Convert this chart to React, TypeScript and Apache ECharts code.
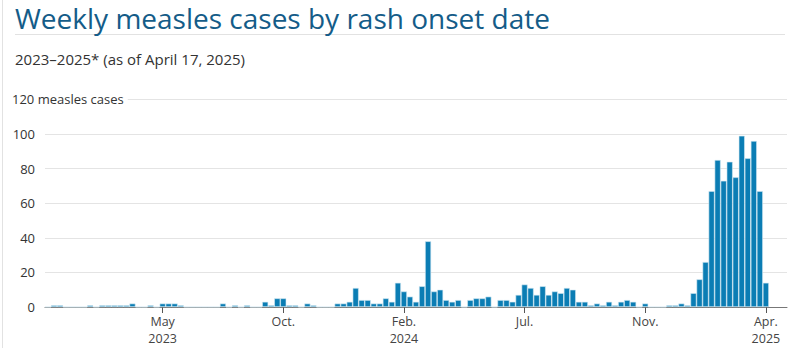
import React, { useEffect, useRef } from "react";
import * as echarts from "echarts";

const startWeek = "2023-01-01";
const weekCount = 123;

const cases = [
  0, 1, 1, 0, 0, 0, 0, 1, 0, 1, 1, 1, 1, 1, 2, 0, 0, 1, 0, 2,
  2, 2, 1, 0, 0, 0, 0, 0, 0, 2, 0, 1, 0, 1, 0, 0, 3, 1, 5, 5,
  1, 1, 0, 2, 1, 0, 0, 0, 2, 2, 3, 11, 4, 4, 2, 2, 5, 3, 14, 9,
  6, 3, 12, 38, 9, 10, 4, 3, 4, 0, 4, 5, 5, 6, 0, 4, 4, 3, 7, 13,
  11, 7, 12, 7, 9, 8, 11, 10, 3, 3, 1, 2, 1, 3, 1, 3, 4, 3, 0, 2,
  0, 0, 0, 1, 1, 2, 1, 8, 16, 26, 67, 85, 73, 84, 75, 99, 86, 96, 67, 14,
];

const tickWeeks = ["2023-05-14", "2023-10-01", "2024-02-18", "2024-07-07", "2024-11-24", "2025-04-13"];
const tickMonths = ["May", "Oct.", "Feb.", "Jul.", "Nov.", "Apr."];
const tickYears = ["2023", "", "2024", "", "", "2025"];

const yTicks = [0, 20, 40, 60, 80, 100, 120];

const title = "Weekly measles cases by rash onset date";
const subtitle = "2023\u20132025* (as of April 17, 2025)";
const yUnitLabel = "120 measles cases";

function buildWeeks(): string[] {
  const out: string[] = [];
  const base = new Date(startWeek + "T00:00:00Z").getTime();
  for (let i = 0; i < weekCount; i++) {
    const d = new Date(base + i * 7 * 86400000);
    out.push(d.toISOString().slice(0, 10));
  }
  return out;
}

const FONT = "'Open Sans', 'Noto Sans', sans-serif";

export default function App() {
  const ref = useRef<HTMLDivElement>(null);
  useEffect(() => {
    if (!ref.current) return;
    const chart = echarts.init(ref.current, undefined, { renderer: "svg" });
    const weeks = buildWeeks();
    const isTick = (i: number, v: string) => tickWeeks.indexOf(v) >= 0;
    const isYearTick = (i: number, v: string) => {
      const k = tickWeeks.indexOf(v);
      return k >= 0 && tickYears[k] !== "";
    };
    chart.setOption({
      animation: false,
      backgroundColor: "#ffffff",
      grid: { left: 45, right: 13, top: 99.5, bottom: 41, containLabel: false },
      xAxis: [
        {
          type: "category",
          data: weeks,
          boundaryGap: true,
          axisLine: { show: true, lineStyle: { color: "#777", width: 1 } },
          axisTick: {
            show: true,
            alignWithLabel: true,
            length: 6,
            lineStyle: { color: "#555" },
            interval: isTick,
          },
          axisLabel: {
            interval: isTick,
            formatter: (v: string) => {
              const k = tickWeeks.indexOf(v);
              return k >= 0 ? tickMonths[k] : "";
            },
            color: "#444",
            fontFamily: FONT,
            fontSize: 12.5,
            lineHeight: 13,
            margin: 8,
          },
          splitLine: { show: false },
        },
        {
          type: "category",
          data: weeks,
          position: "bottom",
          offset: 17,
          boundaryGap: true,
          axisLine: { show: false },
          axisTick: { show: false },
          axisLabel: {
            interval: isYearTick,
            formatter: (v: string) => {
              const k = tickWeeks.indexOf(v);
              return k >= 0 ? tickYears[k] : "";
            },
            color: "#444",
            fontFamily: FONT,
            fontSize: 12.5,
            lineHeight: 13,
            margin: 8,
          },
          splitLine: { show: false },
        },
      ],
      yAxis: {
        type: "value",
        min: 0,
        max: yTicks[yTicks.length - 1],
        interval: 20,
        axisLine: { show: false },
        axisTick: { show: false },
        axisLabel: {
          color: "#333",
          fontFamily: FONT,
          fontSize: 13,
          margin: 10,
          formatter: (v: number) => (v === 120 ? "" : String(v)),
        },
        splitLine: { show: true, lineStyle: { color: "#e4e4e4", width: 1 } },
      },
      series: [
        {
          type: "bar",
          data: cases,
          xAxisIndex: 0,
          barCategoryGap: "0%",
          itemStyle: { color: "#0b7db4", borderColor: "#d4eaf4", borderWidth: 0.6 },
        },
      ],
      graphic: [
        { type: "line", shape: { x1: 2.5, y1: 0, x2: 2.5, y2: 348 }, style: { stroke: "#e2e2e2", lineWidth: 1 } },
        { type: "line", shape: { x1: 15, y1: 34.5, x2: 785, y2: 34.5 }, style: { stroke: "#e2e2e2", lineWidth: 1 } },
        {
          type: "text",
          left: 15,
          top: 4,
          style: { text: title, fill: "#145c88", fontFamily: FONT, fontSize: 28, lineHeight: 28, fontWeight: 400 },
        },
        {
          type: "text",
          left: 15,
          top: 51,
          style: { text: subtitle, fill: "#333", fontFamily: FONT, fontSize: 15 },
        },
        {
          type: "text",
          left: 12,
          top: 92,
          z: 100,
          style: {
            text: yUnitLabel,
            fill: "#333",
            fontFamily: FONT,
            fontSize: 13,
            backgroundColor: "#ffffff",
            padding: [0, 4, 0, 0],
          },
        },
      ],
    });
    return () => chart.dispose();
  }, []);
  return <div ref={ref} style={{ width: 800, height: 348, position: "absolute", left: 0, top: 0 }} />;
}
